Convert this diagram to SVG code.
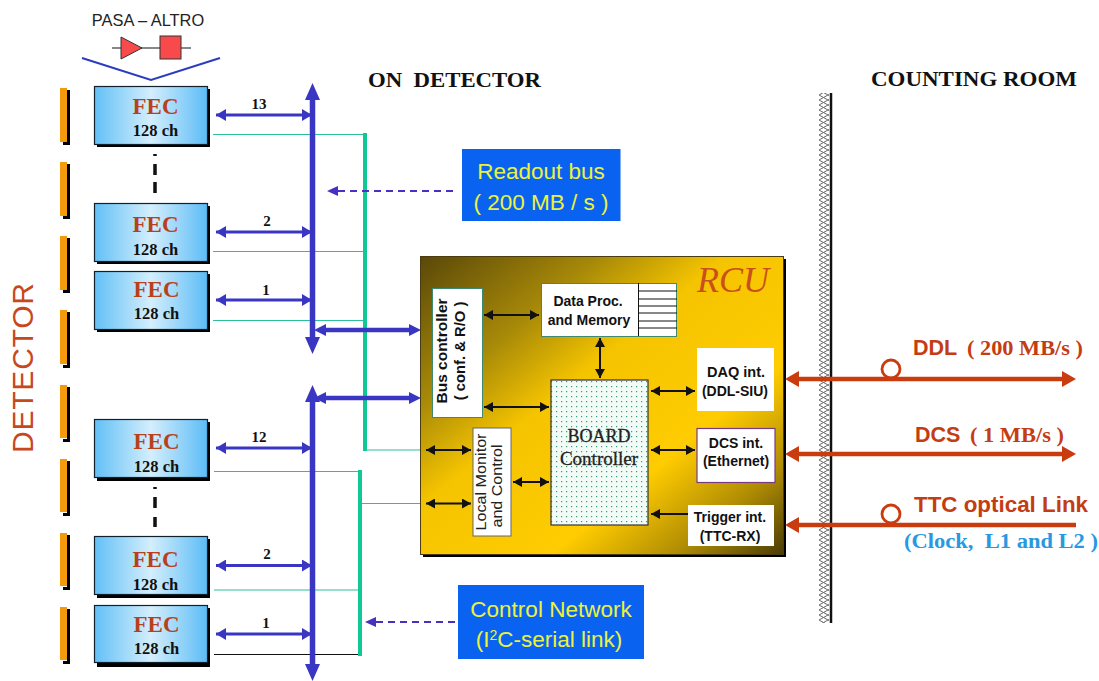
<svg xmlns="http://www.w3.org/2000/svg" width="1099" height="681" viewBox="0 0 1099 681">
<style>
.fec{fill:url(#fecg);stroke:#10202c;stroke-width:1.2}
.sh{fill:#000}
.ft{font-family:"Liberation Serif",serif;font-weight:bold;font-size:23px;fill:#b8401c;text-anchor:middle}
.ch{font-family:"Liberation Serif",serif;font-weight:bold;font-size:16.500px;fill:#111;text-anchor:middle}
.n{font-family:"Liberation Serif",serif;font-weight:bold;font-size:15px;fill:#111;text-anchor:middle}
.hd{font-family:"Liberation Serif",serif;font-weight:bold;font-size:21px;fill:#111;white-space:pre}
.s{font-family:"Liberation Sans",sans-serif;font-size:15px;fill:#222;text-anchor:middle}
.sb{font-family:"Liberation Sans",sans-serif;font-weight:bold;font-size:14px;fill:#111;text-anchor:middle}
.y{font-family:"Liberation Sans",sans-serif;font-size:22.500px;fill:#ecf23c;text-anchor:middle}
.r{font-family:"Liberation Sans",sans-serif;font-weight:bold;font-size:21.500px;fill:#c43d12}
.rs{font-family:"Liberation Serif",serif;font-weight:bold;font-size:20px;fill:#c43d12;white-space:pre}
.wb{fill:#fff;stroke:#3e8a70;stroke-width:1}
.bl{stroke:#3a36c4;stroke-width:3;fill:none;marker-start:url(#bs);marker-end:url(#be)}
.bk{stroke:#111;stroke-width:2;fill:none;marker-start:url(#ks);marker-end:url(#ke)}
.gt{stroke:#2cc09a;stroke-width:1.200;fill:none}
.gT{stroke:#10c896;fill:none}
.or{stroke:#c93c10;stroke-width:4.500;fill:none}
.da{stroke:#4a30c0;stroke-width:2.200;stroke-dasharray:7 5;fill:none}
</style>
<defs>
<linearGradient id="fecg" x1="0" y1="0" x2="1" y2="0"><stop offset="0" stop-color="#62c0f6"/><stop offset=".5" stop-color="#d4eefc"/><stop offset="1" stop-color="#5cbcf6"/></linearGradient>
<linearGradient id="rcug" x1="0" y1="0" x2="1" y2="1"><stop offset="0" stop-color="#5a4808"/><stop offset=".25" stop-color="#a88a08"/><stop offset=".42" stop-color="#f5c400"/><stop offset=".68" stop-color="#ffcc00"/><stop offset=".85" stop-color="#b08c04"/><stop offset="1" stop-color="#4a3c06"/></linearGradient>
<pattern id="dots" width="5" height="5" patternUnits="userSpaceOnUse"><rect width="5" height="5" fill="#f2fbf6"/><rect x="1" y="1" width="1.200" height="1.200" fill="#3a9a80"/></pattern>
<pattern id="zig" width="9" height="5" patternUnits="userSpaceOnUse"><rect width="9" height="5" fill="#fff"/><path d="M0 0L4.500 2.500L9 0M0 5L4.500 2.500L9 5" fill="none" stroke="#666" stroke-width="1"/></pattern>
<marker id="be" markerUnits="userSpaceOnUse" markerWidth="12" markerHeight="14" refX="10" refY="6" orient="auto"><path d="M0 0L10 6L0 12z" fill="#3a36c4"/></marker>
<marker id="bs" markerUnits="userSpaceOnUse" markerWidth="12" markerHeight="14" refX="0" refY="6" orient="auto"><path d="M10 0L0 6L10 12z" fill="#3a36c4"/></marker>
<marker id="ke" markerUnits="userSpaceOnUse" markerWidth="10" markerHeight="12" refX="9" refY="5" orient="auto"><path d="M0 0L9 5L0 10z" fill="#111"/></marker>
<marker id="ks" markerUnits="userSpaceOnUse" markerWidth="10" markerHeight="12" refX="0" refY="5" orient="auto"><path d="M9 0L0 5L9 10z" fill="#111"/></marker>
</defs>
<rect width="1099" height="681" fill="#fff"/>

<g id="detector-bars">
<path d="M67 90h3v55h-7v-3h4zM67 164h3v55h-7v-3h4zM67 238h3v55h-7v-3h4zM67 312h3v56h-7v-3h4zM67 387h3v55h-7v-3h4zM67 461h3v55h-7v-3h4zM67 535h3v55h-7v-3h4zM67 609h3v55h-7v-3h4z" fill="#000"/>
<path d="M60 88h7v54h-7zM60 162h7v54h-7zM60 236h7v54h-7zM60 310h7v54h-7zM60 385h7v53h-7zM60 459h7v53h-7zM60 533h7v53h-7zM60 607h7v53h-7z" fill="#f49a0c"/>
</g>
<text id="detector-label" transform="translate(33 453) rotate(-90)" font-family="Liberation Sans, sans-serif" font-size="30" fill="#c8481e" textLength="170">DETECTOR</text>

<g id="pasa-altro">
<text x="148" y="26" font-family="Liberation Sans, sans-serif" font-size="16.400" fill="#222" text-anchor="middle">PASA – ALTRO</text>
<path d="M112 48H191" stroke="#111" stroke-width="1.200"/>
<path d="M121 37V59L142 48z" fill="#f84a4a" stroke="#333"/>
<rect x="160" y="36" width="21" height="23" fill="#f84a4a" stroke="#333"/>
<path d="M82 58L151 80L220 58" fill="none" stroke="#2a3cc0" stroke-width="2"/>
</g>

<g id="connectors">
<path class="gt" d="M213 134.500H365M213 251.500H365M213 320.500H365M365 450H421M214 471.500H360M214 590H360M360 503.500H421"/>
<path d="M214 654.500H358" stroke="#111" stroke-width="1.200"/>
<path class="gT" stroke-width="4" d="M365 133V451"/>
<path class="gT" stroke-width="4" d="M360 470V656"/>
<path class="bl" d="M216 115H312"/>
<path class="bl" d="M216 232H312"/>
<path class="bl" d="M216 300H312"/>
<path class="bl" d="M216 448H312"/>
<path class="bl" d="M216 565.500H312"/>
<path class="bl" d="M216 634H312"/>
<path d="M312.500 96V342M312.500 398V668" stroke="#3a36c4" stroke-width="5.500" fill="none"/>
<path d="M312.500 83L320 100H305zM312.500 354L320 337H305zM312.500 385L320 402H305zM312.500 681L320 664H305z" fill="#3a36c4"/>
<path d="M325 330H410M325 398H410" stroke="#3a36c4" stroke-width="4.500"/>
<path d="M314 330L326 324V336zM421 330L409 324V336zM314 398L326 392V404zM421 398L409 392V404z" fill="#3a36c4"/>
<path class="da" d="M338 191H455M376 622H455"/>
<path d="M327 191L338 186V196zM365 622L376 617V627z" fill="#4a30c0"/>
</g>

<g id="fec-13"><rect class="sh" x="97" y="89" width="113" height="58"/><rect class="fec" x="94.500" y="86.500" width="113" height="58"/><text class="ft" x="155.500" y="114">FEC</text><text class="ch" x="155.500" y="136">128 ch</text></g>
<path d="M155 154V156M155 164V175M155 182V193" stroke="#111" stroke-width="3.500" fill="none"/>
<g id="fec-2a"><rect class="sh" x="97" y="206" width="113" height="58"/><rect class="fec" x="94.500" y="203.500" width="113" height="58"/><text class="ft" x="155.500" y="232">FEC</text><text class="ch" x="155.500" y="255">128 ch</text></g>
<g id="fec-1a"><rect class="sh" x="97" y="274" width="113" height="58"/><rect class="fec" x="94.500" y="271.500" width="113" height="58"/><text class="ft" x="156.500" y="297">FEC</text><text class="ch" x="156.500" y="319">128 ch</text></g>
<g id="fec-12"><rect class="sh" x="97" y="422" width="113" height="59"/><rect class="fec" x="94.500" y="419.500" width="113" height="58"/><text class="ft" x="156.500" y="449">FEC</text><text class="ch" x="156.500" y="472">128 ch</text></g>
<path d="M155 487V489M155 497V508M155 517V527" stroke="#111" stroke-width="3.500" fill="none"/>
<g id="fec-2b"><rect class="sh" x="97" y="539" width="113" height="59"/><rect class="fec" x="94.500" y="536.500" width="113" height="58"/><text class="ft" x="155.500" y="567">FEC</text><text class="ch" x="155.500" y="590">128 ch</text></g>
<g id="fec-1b"><rect class="sh" x="97" y="608" width="113" height="59"/><rect class="fec" x="94.500" y="605.500" width="113" height="57"/><text class="ft" x="156.500" y="632">FEC</text><text class="ch" x="156.500" y="654">128 ch</text></g>
<g id="bus-numbers">
<text class="n" x="259" y="109">13</text><text class="n" x="267" y="226">2</text><text class="n" x="266" y="295">1</text>
<text class="n" x="259" y="442">12</text><text class="n" x="267" y="559">2</text><text class="n" x="266" y="628">1</text>
</g>

<text class="hd" x="368" y="87" textLength="173" lengthAdjust="spacingAndGlyphs">ON  DETECTOR</text>
<text class="hd" x="871" y="86" textLength="206" lengthAdjust="spacingAndGlyphs">COUNTING ROOM</text>

<g id="readout-bus"><rect x="462" y="149" width="158.500" height="72" fill="#0a62f0"/><text class="y" x="541" y="179">Readout bus</text><text class="y" x="541" y="210">( 200 MB / s )</text></g>
<g id="control-network"><rect x="458" y="585" width="186" height="74" fill="#0a62f0"/><text class="y" x="551" y="617">Control Network</text><text class="y" x="549" y="647">(I<tspan font-size="14" dy="-7">2</tspan><tspan dy="7">C-serial link)</tspan></text></g>

<g id="wall"><rect x="819" y="93" width="10" height="530" fill="url(#zig)"/><path d="M831 93V623" stroke="#111" stroke-width="2.500"/></g>

<g id="rcu">
<rect x="423" y="259" width="363" height="298" fill="#000"/>
<rect x="420.500" y="256.500" width="363" height="298" fill="url(#rcug)" stroke="#4a3c10"/>
<text x="697" y="292" font-family="Liberation Serif, serif" font-style="italic" font-size="36" fill="#c9501c">RCU</text>
</g>
<g id="bus-controller"><rect class="wb" x="432.500" y="288.500" width="50" height="129"/><text class="sb" style="font-size:15.500px" transform="translate(447 351) rotate(-90)">Bus controller</text><text class="sb" style="font-size:14.800px" transform="translate(465 351) rotate(-90)">( conf. &amp; R/O )</text></g>
<g id="data-proc"><rect class="wb" x="541.500" y="283.500" width="135" height="53"/><text class="sb" x="588" y="306">Data Proc.</text><text class="sb" x="589" y="325">and Memory</text><path d="M638.500 283V336M639 291H677M639 299H677M639 306H677M639 313H677M639 321H677M639 328H677" stroke="#111" fill="none"/></g>
<g id="board-controller"><rect x="551" y="380" width="97" height="145" fill="url(#dots)" stroke="#333" stroke-width="1.200"/><text x="599" y="442" font-family="Liberation Serif, serif" font-size="18" fill="#222" stroke="#222" stroke-width=".3" text-anchor="middle">BOARD</text><text x="599" y="465" font-family="Liberation Serif, serif" font-size="19" fill="#222" stroke="#222" stroke-width=".3" text-anchor="middle">Controller</text></g>
<g id="local-monitor"><rect x="473" y="428" width="38" height="108" fill="#fff" stroke="#666"/><text class="s" transform="translate(486 482) rotate(-90)" textLength="97" lengthAdjust="spacingAndGlyphs">Local Monitor</text><text class="s" transform="translate(502 486) rotate(-90)" textLength="83" lengthAdjust="spacingAndGlyphs">and Control</text></g>
<g id="daq"><rect x="697" y="348" width="77" height="63" fill="#fff"/><text class="sb" x="736" y="377" style="font-size:14.500px">DAQ int.</text><text class="sb" x="735" y="396">(DDL-SIU)</text></g>
<g id="dcs"><rect x="697" y="428.500" width="78" height="54" fill="#fff" stroke="#7a3a80" stroke-width="1.200"/><text class="sb" x="736" y="448">DCS int.</text><text class="sb" x="736" y="466">(Ethernet)</text></g>
<g id="trigger"><rect x="688" y="505" width="86" height="41" fill="#fff"/><text class="sb" x="730" y="522">Trigger int.</text><text class="sb" x="730" y="541">(TTC-RX)</text></g>
<g id="rcu-links">
<path class="bk" d="M484 315H539"/>
<path class="bk" d="M600 338V378"/>
<path class="bk" d="M484 407H549"/>
<path class="bk" d="M651 391H695"/>
<path class="bk" d="M651 450H695"/>
<path class="bk" d="M513 482H549"/>
<path class="bk" d="M426 450H471"/>
<path class="bk" d="M426 503.500H471"/>
<path d="M688 514H651" stroke="#111" stroke-width="1.800" marker-end="url(#ke)"/>
</g>

<g id="external-links">
<circle cx="891" cy="369" r="9" fill="none" stroke="#c93c10" stroke-width="2.800"/>
<circle cx="891" cy="514" r="9" fill="none" stroke="#c93c10" stroke-width="2.800"/>
<path class="or" d="M795 379H1066M795 454H1066M795 525H1076"/>
<path d="M785 379L799 371V387zM1076 379L1062 371V387zM785 454L799 446V462zM1076 454L1062 446V462zM785 525L799 517V533z" fill="#c93c10"/>
<text class="r" x="913" y="355">DDL</text><text class="rs" x="967" y="355" textLength="116" lengthAdjust="spacingAndGlyphs">( 200 MB/s )</text>
<text class="r" x="915" y="442">DCS</text><text class="rs" x="970" y="442" textLength="94" lengthAdjust="spacingAndGlyphs">( 1 MB/s )</text>
<text class="r" x="914" y="512" textLength="174" lengthAdjust="spacingAndGlyphs">TTC optical Link</text>
<text class="rs" x="904" y="548" style="fill:#2a98e0" textLength="194" lengthAdjust="spacingAndGlyphs">(Clock,  L1 and L2 )</text>
</g>
</svg>
